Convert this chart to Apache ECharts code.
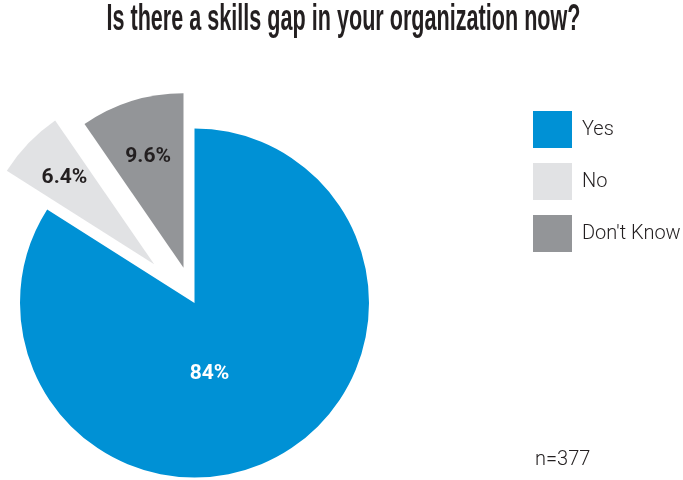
<!DOCTYPE html>
<html>
<head>
<meta charset="utf-8">
<script src="https://cdn.jsdelivr.net/npm/echarts@6/dist/echarts.min.js"></script>
<style>
  html, body { margin: 0; padding: 0; background: #ffffff; }
  #chart { width: 683px; height: 480px; }
</style>
</head>
<body>
<div id="chart"></div>
<script>
// Survey answers: "Is there a skills gap in your organization now?"
const categories = ['Yes', 'No', "Don't Know"];
const shares = [84, 6.4, 9.6];
const sampleSize = 377;
const titleText = 'Is there a skills gap in your organization now?';

const palette = { 'Yes': '#0091d5', 'No': '#e1e2e4', "Don't Know": '#939598' };
const textDark = '#231f20';
const bodyFont = 'Roboto, "Liberation Sans", sans-serif';

// Each slice gets its own layer so the two minority slices can be pulled
// out by different distances while all layers share one angular layout.
const explode = { 'Yes': 0, 'No': 56, "Don't Know": 37 };
const labelShift = {
  'Yes': [-28.5, -8.5],
  'No': [-24.7, -24],
  "Don't Know": [-8.6, -24.4]
};

const chart = echarts.init(document.getElementById('chart'), null, { renderer: 'canvas' });

function sliceLayer(visibleName) {
  return {
    type: 'pie',
    name: visibleName,
    center: [194.5, 303],
    radius: 174.5,
    startAngle: 90,
    clockwise: true,
    silent: true,
    animation: false,
    selectedMode: 'multiple',
    selectedOffset: explode[visibleName],
    emphasis: { disabled: true, scale: false },
    labelLine: { show: false },
    data: categories.map((name, i) => {
      const shown = name === visibleName;
      return {
        name: name,
        value: shares[i],
        selected: shown && explode[name] > 0,
        itemStyle: {
          color: shown ? palette[name] : 'rgba(0,0,0,0)',
          borderWidth: 0
        },
        label: {
          show: shown,
          position: 'inside',
          formatter: '{c}%',
          color: name === 'Yes' ? '#ffffff' : textDark,
          fontFamily: bodyFont,
          fontWeight: 'bold',
          fontSize: 21
        }
      };
    }),
    labelLayout: function (params) {
      const name = categories[params.dataIndex];
      if (name !== visibleName) return {};
      return { dx: labelShift[name][0], dy: labelShift[name][1] };
    }
  };
}

const option = {
  backgroundColor: '#ffffff',
  animation: false,
  title: {
    text: 'n=' + sampleSize,
    left: 535,
    top: 450,
    padding: 0,
    textStyle: {
      color: textDark,
      fontFamily: bodyFont,
      fontWeight: 300,
      fontSize: 20
    }
  },
  legend: {
    orient: 'vertical',
    left: 533,
    top: 111,
    padding: 0,
    itemWidth: 39,
    itemHeight: 37,
    itemGap: 15,
    icon: 'rect',
    selectedMode: false,
    data: categories.map(name => ({ name: name, itemStyle: { color: palette[name] } })),
    textStyle: {
      color: textDark,
      fontFamily: bodyFont,
      fontWeight: 300,
      fontSize: 20,
      overflow: 'none',
      padding: [0, 0, 0, 5]
    }
  },
  graphic: [{
    type: 'text',
    x: 343.5,
    y: 20,
    scaleX: 0.6,
    style: {
      text: titleText,
      fill: textDark,
      font: 'bold 36px "Liberation Sans", sans-serif',
      textAlign: 'center',
      textVerticalAlign: 'middle'
    }
  }],
  series: categories.map(sliceLayer)
};

chart.setOption(option);
</script>
</body>
</html>
